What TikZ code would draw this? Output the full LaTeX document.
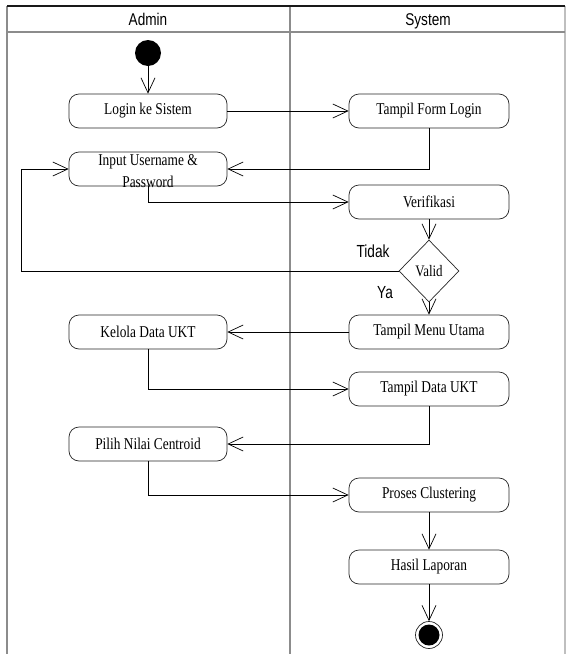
\documentclass[tikz,border=0pt]{standalone}
\usepackage{fontspec}
\setmainfont{Liberation Serif}[FakeStretch=0.81]
\newfontfamily\hdrfont{Liberation Sans}[FakeStretch=0.8]
\newfontfamily\grdfont{Liberation Sans}[FakeStretch=0.78]
\usetikzlibrary{arrows.meta,shapes.geometric}
\tikzset{
  act/.style={draw=black!85, line width=0.7pt, rounded corners=10pt, minimum width=158pt, minimum height=34pt, inner sep=0pt, fill=white, font=\fontsize{16.5}{22}\selectfont, align=center},
  dec/.style={draw=black!85, line width=0.7pt, diamond, minimum width=60pt, minimum height=62pt, inner sep=0pt, fill=white, font=\fontsize{16}{18}\selectfont},
  flow/.style={draw=black, line width=0.8pt, -{Straight Barb[length=15pt,width=14pt,line width=0.7pt]}},
  lane/.style={draw=black!45, line width=1.4pt},
  hdr/.style={font=\hdrfont\fontsize{17}{19}\selectfont, anchor=base},
  guard/.style={font=\grdfont\fontsize{17.5}{19}\selectfont}
}
\begin{document}
\begin{tikzpicture}[x=1pt,y=-1pt]
\useasboundingbox (0,0) rectangle (567,654);
\fill[white] (0,0) rectangle (567,654);
% swimlane frame
\draw[lane] (7,6) -- (7,654);
\draw[lane] (290,6) -- (290,654);
\draw[draw=black!25, line width=1.2pt] (565,6) -- (565,654);
\draw[lane] (7,32) -- (565,32);
\draw[draw=black!90, line width=1.2pt] (7,6) -- (565,6);
\node[hdr] (hadmin) at (148,25) {Admin};
\node[hdr] (hsystem) at (428,25) {System};
% nodes
\node[circle, fill=black, minimum size=26pt, inner sep=0pt] (start) at (148,53) {};
\node[act] (login) at (148,111) {Login ke Sistem};
\node[act, minimum width=160pt] (tfl) at (429,111) {Tampil Form Login};
\node[act] (input) at (148,169) {};
\node[font=\fontsize{16.5}{22}\selectfont, align=center, inner sep=0pt] (inputtxt) at (148,171) {Input Username \&\\Password};
\node[act, minimum width=160pt] (verif) at (429,202) {Verifikasi};
\node[dec] (valid) at (429,271) {Valid};
\node[act, minimum width=160pt] (tmu) at (429,332) {Tampil Menu Utama};
\node[act] (kelola) at (148,332) {Kelola Data UKT};
\node[act, minimum width=160pt] (tdu) at (429,389) {Tampil Data UKT};
\node[act] (pilih) at (148,444) {Pilih Nilai Centroid};
\node[act, minimum width=160pt] (proses) at (429,495) {Proses Clustering};
\node[act, minimum width=160pt] (hasil) at (429,567) {Hasil Laporan};
\node[circle, draw=black!85, line width=0.7pt, fill=white, minimum size=27pt, inner sep=0pt] (end) at (429,635) {};
\node[circle, fill=black, minimum size=21pt, inner sep=0pt] (endin) at (end) {};
\coordinate (loop) at (21,271);
% connectors
\draw[flow] (start) -- (login);
\draw[flow] (login) -- (tfl);
\draw[flow] (tfl.south) |- (input.east);
\draw[flow] (input.south) |- (verif.west);
\draw[flow] (verif) -- (valid);
\draw[flow] (valid.west) -- (loop) |- (input.west);
\draw[flow] (valid) -- (tmu);
\draw[flow] (tmu) -- (kelola);
\draw[flow] (kelola.south) |- (tdu.west);
\draw[flow] (tdu.south) |- (pilih.east);
\draw[flow] (pilih.south) |- (proses.west);
\draw[flow] (proses) -- (hasil);
\draw[flow] (hasil) -- (end);
% guards
\node[guard] (tidak) at (373,251) {Tidak};
\node[guard] (ya) at (385,293) {Ya};
\end{tikzpicture}
\end{document}
